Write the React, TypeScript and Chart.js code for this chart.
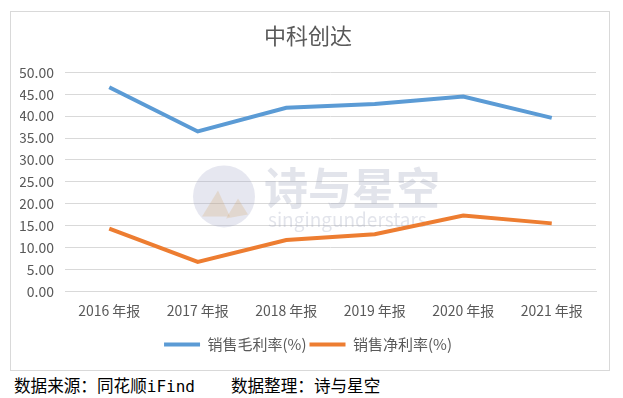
import React, { useEffect, useRef } from "react";
import { Chart, registerables } from "chart.js";

Chart.register(...registerables);

const categories = ["2016 年报", "2017 年报", "2018 年报", "2019 年报", "2020 年报", "2021 年报"];
const grossMargin = [46.6, 36.5, 41.9, 42.8, 44.5, 39.6];
const netMargin = [14.3, 6.7, 11.7, 13.0, 17.3, 15.5];
const seriesNames = ["销售毛利率(%)", "销售净利率(%)"];
const seriesColors = ["#5B9BD5", "#ED7D31"];
const titleText = "中科创达";
const footerSource = ["数据来源：同花顺", "iFind"];
const footerAuthor = "数据整理：诗与星空";

const FONT = "'Noto Sans CJK SC', 'Noto Sans', sans-serif";

const watermark = {
  id: "watermark",
  beforeDatasetsDraw(chart: any) {
    const { ctx, chartArea } = chart;
    ctx.save();
    const cx = chartArea.left + 159;
    const cy = chartArea.top + 124;
    ctx.fillStyle = "rgba(165,170,200,0.28)";
    ctx.beginPath();
    ctx.arc(cx, cy, 31, 0, Math.PI * 2);
    ctx.fill();
    ctx.fillStyle = "rgba(210,160,90,0.22)";
    ctx.beginPath();
    ctx.moveTo(cx - 22, cy + 20);
    ctx.lineTo(cx - 6, cy - 6);
    ctx.lineTo(cx + 6, cy + 20);
    ctx.closePath();
    ctx.fill();
    ctx.beginPath();
    ctx.moveTo(cx + 2, cy + 22);
    ctx.lineTo(cx + 14, cy + 2);
    ctx.lineTo(cx + 24, cy + 18);
    ctx.closePath();
    ctx.fill();
    ctx.fillStyle = "rgba(160,165,190,0.30)";
    ctx.font = `bold 44px ${FONT}`;
    ctx.textBaseline = "middle";
    ctx.textAlign = "left";
    ctx.fillText("诗与星空", cx + 40, cy - 8);
    ctx.font = `19px ${FONT}`;
    ctx.fillText("singingunderstars", cx + 44, cy + 23);
    ctx.restore();
  },
};

export default function App() {
  const ref = useRef<HTMLCanvasElement | null>(null);
  useEffect(() => {
    if (!ref.current) return;
    const chart = new Chart(ref.current, {
      type: "line",
      data: {
        labels: categories,
        datasets: [
          {
            label: seriesNames[0],
            data: grossMargin,
            borderColor: seriesColors[0],
            backgroundColor: seriesColors[0],
            borderWidth: 4,
            pointRadius: 0,
            tension: 0,
          },
          {
            label: seriesNames[1],
            data: netMargin,
            borderColor: seriesColors[1],
            backgroundColor: seriesColors[1],
            borderWidth: 4,
            pointRadius: 0,
            tension: 0,
          },
        ],
      },
      options: {
        animation: false,
        responsive: false,
        layout: { padding: { left: 9, right: 13, top: 0, bottom: 8 } },
        plugins: {
          title: {
            display: true,
            text: titleText,
            color: "#595959",
            font: { family: FONT, size: 22, weight: "normal" },
            padding: { top: 10, bottom: 24 },
          },
          legend: {
            position: "bottom",
            labels: {
              color: "#595959",
              font: { family: FONT, size: 15 },
              boxWidth: 36,
              boxHeight: 4,
              padding: 3,
              generateLabels: (c: any) =>
                c.data.datasets.map((ds: any, i: number) => ({
                  text: ds.label,
                  fillStyle: seriesColors[i],
                  strokeStyle: seriesColors[i],
                  lineWidth: 0,
                  fontColor: "#595959",
                  hidden: false,
                  datasetIndex: i,
                })),
            },
          },
          tooltip: { enabled: false },
        },
        scales: {
          x: {
            offset: true,
            afterFit: (s: any) => {
              s.height += 4;
            },
            grid: { display: false, drawTicks: false },
            border: { display: true, color: "#d9d9d9" },
            ticks: { color: "#595959", font: { family: FONT, size: 14 }, padding: 11, maxRotation: 0 },
          },
          y: {
            min: 0,
            max: 50,
            afterFit: (s: any) => {
              s.width = 45;
            },
            grid: { color: "#d9d9d9", drawTicks: false },
            border: { display: false },
            ticks: {
              stepSize: 5,
              color: "#595959",
              font: { family: FONT, size: 14 },
              padding: 11,
              callback: (v: any) => Number(v).toFixed(2),
            },
          },
        },
      },
      plugins: [watermark],
    });
    return () => chart.destroy();
  }, []);
  return (
    <div style={{ width: 607 }}>
      <div
        style={{
          marginLeft: 2,
          marginTop: 3,
          width: 598,
          height: 358,
          border: "1px solid #d9d9d9",
        }}
      >
        <canvas ref={ref} width={598} height={358} style={{ display: "block" }} />
      </div>
      <div
        style={{
          marginLeft: 6,
          marginTop: 4,
          fontFamily: FONT,
          fontSize: 16.6,
          lineHeight: "20px",
          color: "#000",
          whiteSpace: "pre",
        }}
      >
        <span>{footerSource[0]}</span>
        <span style={{ fontFamily: "'DejaVu Sans Mono', monospace", fontSize: 16 }}>{footerSource[1]}</span>
        <span style={{ marginLeft: 36 }}>{footerAuthor}</span>
      </div>
    </div>
  );
}
